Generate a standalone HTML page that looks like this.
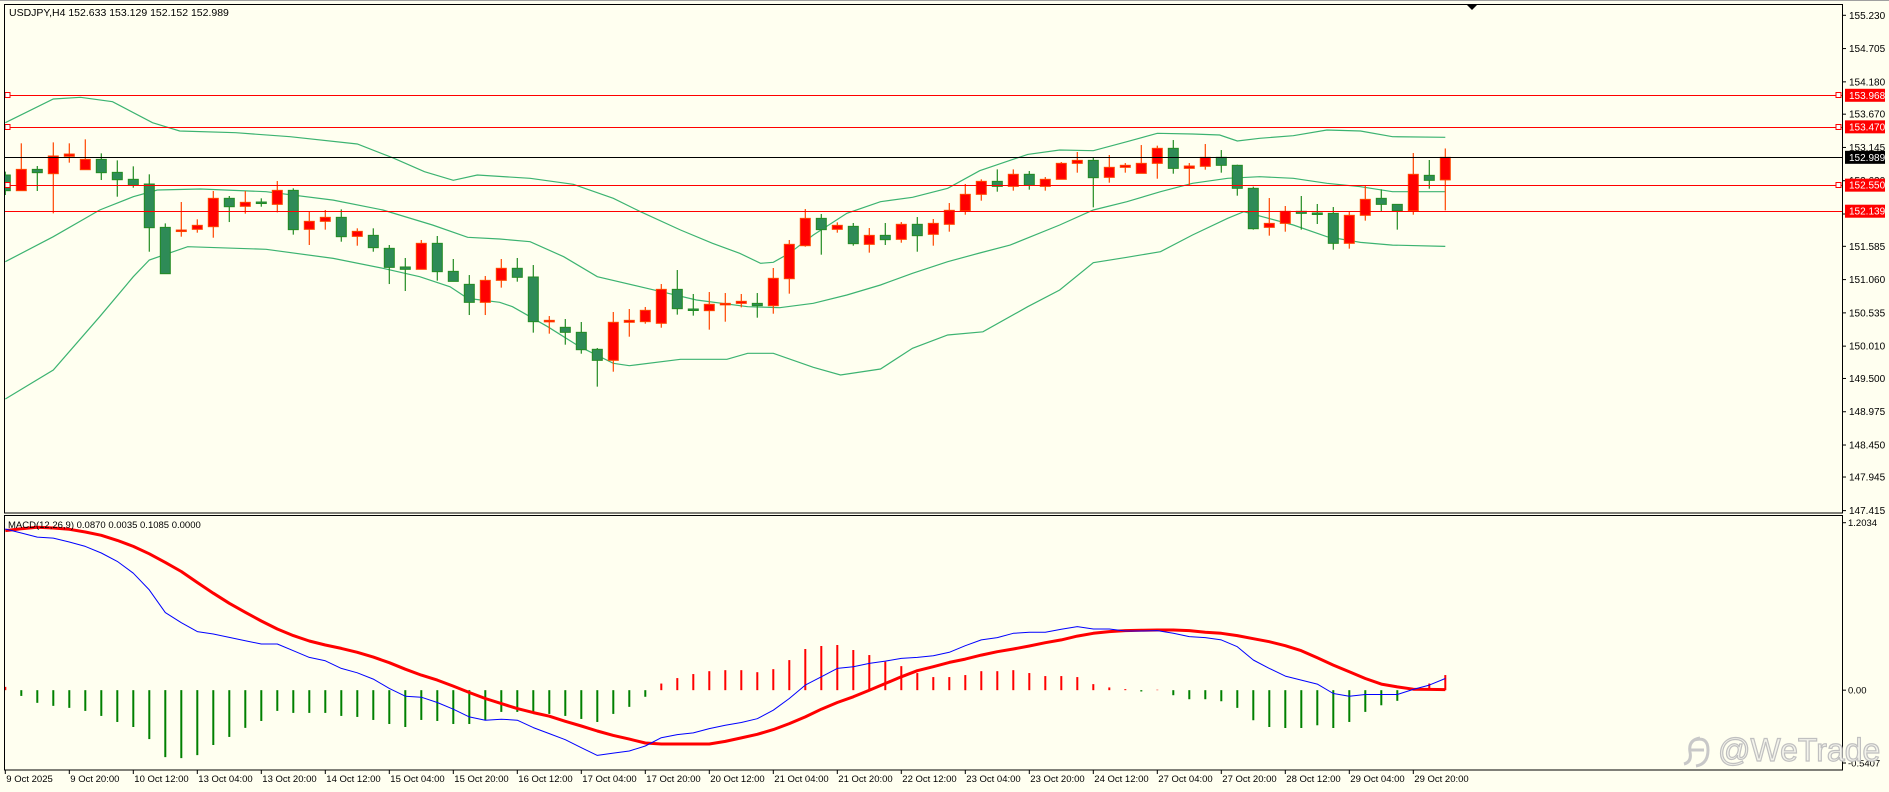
<!DOCTYPE html>
<html><head><meta charset="utf-8"><title>USDJPY H4</title>
<style>
html,body{margin:0;padding:0;background:#fffff0;}
svg{display:block;}
text{font-family:"Liberation Sans",sans-serif;}
</style></head>
<body>
<svg id="chart" xmlns="http://www.w3.org/2000/svg" width="1889" height="792" viewBox="0 0 1889 792">
<rect x="0" y="0" width="1889" height="792" fill="#fffff0"/>
<line x1="0" y1="0.5" x2="1889" y2="0.5" stroke="#a0a0a0" stroke-width="1"/>
<defs>
<clipPath id="mainClip"><rect x="5" y="5" width="1837" height="507"/></clipPath>
<clipPath id="macdClip"><rect x="5" y="516" width="1837" height="253"/></clipPath>
</defs>
<g id="mainPanel"></g>
<g id="macdPanel"></g>
<g id="axes"></g>
</svg>
<script>
// ---- price data (oldest -> newest) ----
const opens=[152.710,152.463,152.799,152.731,153.005,152.794,152.957,152.752,152.642,152.568,
151.884,151.821,151.853,151.895,152.342,152.216,152.284,152.247,152.468,151.853,
151.979,152.042,151.742,151.758,151.553,151.259,151.222,151.632,151.190,150.985,
150.701,151.048,151.238,151.101,150.396,150.307,150.228,149.960,149.786,150.386,
150.396,150.370,150.906,150.596,150.570,150.670,150.685,150.685,150.648,151.074,
151.595,152.026,151.853,151.900,151.616,151.758,151.695,151.932,151.774,151.932,
152.147,152.405,152.610,152.531,152.721,152.531,152.642,152.894,152.941,152.673,
152.831,152.736,152.894,153.131,152.815,152.847,152.989,152.863,152.500,151.884,
151.947,152.137,152.111,152.105,151.632,152.074,152.342,152.247,152.147,152.705,152.633];
const highs=[152.763,153.210,152.852,153.225,153.210,153.273,153.052,152.941,152.847,152.721,
151.947,152.284,152.011,152.458,152.379,152.458,152.342,152.615,152.500,152.137,
152.158,152.168,151.869,151.869,151.606,151.401,151.685,151.748,151.385,151.132,
151.117,151.385,151.401,151.290,150.485,150.438,150.391,149.981,150.549,150.596,
150.628,150.990,151.211,150.833,150.864,150.848,150.833,150.848,151.243,151.685,
152.174,152.095,151.963,151.953,151.874,151.953,151.968,152.047,152.016,152.268,
152.568,152.642,152.799,152.799,152.773,152.678,152.915,153.073,152.989,153.026,
152.899,153.183,153.173,153.262,152.899,153.199,153.104,152.873,152.526,152.347,
152.221,152.379,152.253,152.205,152.137,152.547,152.484,152.247,153.057,152.947,153.129];
const lows=[152.394,152.463,152.458,152.105,152.905,152.794,152.631,152.368,152.510,151.500,
151.153,151.737,151.800,151.721,151.968,152.100,152.210,152.121,151.769,151.606,
151.848,151.658,151.595,151.500,150.990,150.880,151.222,151.043,151.032,150.501,
150.501,150.933,151.027,150.223,150.207,150.033,149.891,149.371,149.607,150.159,
150.364,150.301,150.507,150.491,150.270,150.396,150.622,150.459,150.522,150.838,
151.579,151.453,151.800,151.595,151.485,151.606,151.642,151.500,151.595,151.816,
152.084,152.305,152.447,152.463,152.479,152.463,152.642,152.747,152.200,152.589,
152.747,152.736,152.652,152.731,152.547,152.794,152.747,152.384,151.848,151.753,
151.816,151.848,151.937,151.532,151.548,151.990,152.142,151.848,152.084,152.494,152.152];
const closes=[152.463,152.799,152.747,153.010,153.041,152.957,152.747,152.636,152.547,151.879,
151.153,151.842,151.916,152.342,152.210,152.279,152.263,152.468,151.848,151.979,
152.042,151.737,151.821,151.564,151.253,151.222,151.632,151.185,151.032,150.701,
151.048,151.238,151.096,150.396,150.417,150.228,149.954,149.786,150.386,150.417,
150.575,150.906,150.601,150.580,150.670,150.685,150.717,150.648,151.080,151.616,
152.026,151.848,151.916,151.627,151.758,151.690,151.932,151.753,151.947,152.153,
152.405,152.610,152.531,152.721,152.547,152.642,152.894,152.941,152.668,152.831,
152.863,152.894,153.131,152.815,152.852,152.989,152.863,152.500,151.863,151.947,
152.137,152.105,152.100,151.632,152.074,152.326,152.247,152.147,152.721,152.626,152.989];

// ---- Bollinger bands (bar index, price) ----
const upperIdx=[0,3,4.7,6.7,9.2,10.9,14.4,17.8,22,24.2,26.2,28,29.5,32.8,35.5,38,39.7,42.2,44.2,45.9,47.2,48,49,50.5,52.6,54.7,56.7,58.9,60.9,63.9,65.9,68,70.1,72,74.2,75.9,77,78.4,80.5,82.6,84.7,86.7,90];
const upperVal=[153.535,153.909,153.936,153.867,153.535,153.404,153.377,153.314,153.199,152.983,152.762,152.626,152.710,152.658,152.563,152.342,152.131,151.842,151.632,151.475,151.317,151.333,151.475,151.763,152.106,152.289,152.358,152.500,152.778,153.036,153.104,153.093,153.235,153.368,153.357,153.341,153.246,153.289,153.330,153.420,153.404,153.314,153.305];
const midIdx=[0,3,5.9,8,9.5,12.2,16.3,20.5,23.6,26.7,28.9,30.9,32.8,34.9,37,40.1,43.2,46.4,48.4,50.5,52.6,54.7,56.7,58.9,60.9,62.8,65.9,68,70.1,72.2,74.2,76.4,78.4,80.5,82.6,84.7,86.7,90];
const midVal=[151.342,151.737,152.158,152.368,152.473,152.489,152.446,152.315,152.158,151.921,151.727,151.700,151.658,151.421,151.105,150.922,150.738,150.632,150.616,150.686,150.817,150.974,151.159,151.342,151.480,151.605,151.921,152.158,152.289,152.446,152.579,152.658,152.683,152.658,152.579,152.525,152.446,152.446];
const lowIdx=[0,3,5.9,8,9,11.4,16.3,20.5,23.6,25.9,27.8,28.9,30.9,31.7,33.9,35.9,38,39,42.2,45.1,46.4,48,50.5,52.2,54.7,56.7,58.9,61.1,63.9,65.9,68,70.1,72.2,74.2,76.4,77.4,80.5,82.6,84.7,86.7,90];
const lowVal=[149.176,149.633,150.474,151.105,151.369,151.579,151.538,151.395,151.238,151.105,150.947,150.764,150.701,150.632,150.316,150.001,149.739,149.701,149.802,149.802,149.897,149.897,149.676,149.554,149.649,149.976,150.186,150.237,150.632,150.896,151.326,151.411,151.500,151.763,152.027,152.131,151.921,151.736,151.647,151.605,151.584];

// ---- horizontal levels ----
const levelPrices=[153.968,153.470,152.550,152.139];
const levelMarkers=[true,true,true,false];
const lastPrice=152.989;
const priceTicks=[155.230,154.705,154.180,153.670,153.145,152.620,152.095,151.585,151.060,150.535,150.010,149.500,148.975,148.450,147.945,147.415];

// ---- MACD data ----
const macdHist=[0.023,-0.040,-0.088,-0.109,-0.123,-0.144,-0.179,-0.221,-0.256,-0.340,
-0.465,-0.472,-0.451,-0.381,-0.325,-0.262,-0.214,-0.144,-0.158,-0.158,
-0.158,-0.179,-0.186,-0.207,-0.235,-0.256,-0.207,-0.214,-0.235,-0.235,
-0.207,-0.151,-0.151,-0.158,-0.165,-0.179,-0.200,-0.221,-0.165,-0.116,
-0.046,0.046,0.084,0.112,0.132,0.139,0.139,0.125,0.146,0.209,
0.286,0.307,0.314,0.279,0.244,0.198,0.167,0.119,0.091,0.091,
0.105,0.132,0.132,0.139,0.119,0.098,0.098,0.091,0.042,0.019,
0.007,-0.009,0.003,-0.035,-0.063,-0.063,-0.077,-0.123,-0.209,-0.256,
-0.263,-0.263,-0.244,-0.263,-0.221,-0.151,-0.105,-0.074,0.002,0.046,0.105];
const macdLine=[1.120,1.092,1.064,1.057,1.030,0.999,0.953,0.895,0.813,0.697,
0.539,0.469,0.407,0.390,0.367,0.344,0.321,0.321,0.274,0.228,
0.204,0.151,0.121,0.077,0.012,-0.042,-0.049,-0.086,-0.132,-0.186,
-0.209,-0.202,-0.209,-0.260,-0.302,-0.344,-0.400,-0.453,-0.437,-0.423,
-0.388,-0.330,-0.309,-0.297,-0.267,-0.244,-0.225,-0.198,-0.139,-0.058,
0.035,0.093,0.151,0.163,0.186,0.202,0.221,0.228,0.239,0.263,
0.309,0.349,0.365,0.395,0.402,0.402,0.423,0.442,0.425,0.425,
0.411,0.411,0.414,0.395,0.372,0.365,0.349,0.302,0.210,0.151,
0.098,0.070,0.042,-0.023,-0.042,-0.030,-0.030,-0.030,0.005,0.035,0.081];
const signalLine=[1.109,1.122,1.132,1.127,1.118,1.099,1.076,1.041,0.999,0.948,
0.888,0.825,0.748,0.674,0.604,0.541,0.481,0.425,0.379,0.342,
0.314,0.290,0.263,0.230,0.191,0.146,0.105,0.070,0.028,-0.016,
-0.058,-0.093,-0.128,-0.156,-0.181,-0.216,-0.249,-0.284,-0.314,-0.340,
-0.367,-0.374,-0.374,-0.374,-0.374,-0.356,-0.332,-0.307,-0.274,-0.232,
-0.186,-0.132,-0.086,-0.046,0.000,0.046,0.093,0.135,0.163,0.193,
0.216,0.244,0.267,0.286,0.307,0.330,0.349,0.376,0.395,0.407,
0.414,0.416,0.418,0.418,0.414,0.402,0.395,0.379,0.358,0.337,
0.309,0.274,0.225,0.174,0.128,0.081,0.042,0.023,0.007,0.005,0.004];
const macdTicks=[1.2034,0.00,-0.5407];
const macdTickLabels=["1.2034","0.00","-0.5407"];
const timeLabels=["9 Oct 2025","9 Oct 20:00","10 Oct 12:00","13 Oct 04:00","13 Oct 20:00","14 Oct 12:00","15 Oct 04:00","15 Oct 20:00","16 Oct 12:00","17 Oct 04:00","17 Oct 20:00","20 Oct 12:00","21 Oct 04:00","21 Oct 20:00","22 Oct 12:00","23 Oct 04:00","23 Oct 20:00","24 Oct 12:00","27 Oct 04:00","27 Oct 20:00","28 Oct 12:00","29 Oct 04:00","29 Oct 20:00"];
const timeLabelIdx=[0,4,8,12,16,20,24,28,32,36,40,44,48,52,56,60,64,68,72,76,80,84,88];

// ---- scales ----
const X=i=>5.3+16*i;
const Y=p=>15.3+(155.23-p)*63.38;
const M=v=>517+(1.2034-v)*143.9;

const NS="http://www.w3.org/2000/svg";
function mk(tag,attrs,parent){const e=document.createElementNS(NS,tag);for(const k in attrs)e.setAttribute(k,attrs[k]);parent.appendChild(e);return e;}

const main=document.getElementById('mainPanel');
const macd=document.getElementById('macdPanel');
const axes=document.getElementById('axes');

// panel borders
let b1=mk('rect',{x:4.5,y:4.5,width:1838,height:508.5,fill:'none',stroke:'#000','stroke-width':1},axes);


let b2=mk('rect',{x:4.5,y:515.5,width:1838,height:254.5,fill:'none',stroke:'#000','stroke-width':1},axes);



const gMain=mk('g',{'clip-path':'url(#mainClip)'},main);



// bands
function bandPath(idx,val,name){
  let d=idx.map((i,k)=>(k?'L':'M')+X(i).toFixed(1)+' '+Y(val[k]).toFixed(1)).join(' ');
  const p=mk('path',{d:d,fill:'none',stroke:'#3cb371','stroke-width':1.2},gMain);
  
  
}
bandPath(upperIdx,upperVal,'bollinger-upper');
bandPath(midIdx,midVal,'bollinger-middle');
bandPath(lowIdx,lowVal,'bollinger-lower');

// levels
levelPrices.forEach((p,k)=>{
  const y=Math.round(Y(p))+0.5;
  const l=mk('line',{x1:5,y1:y,x2:1842,y2:y,stroke:'#ff0000','stroke-width':1},main);
  
  
  if(levelMarkers[k]){
    const m1=mk('rect',{x:5,y:y-3,width:5,height:5,fill:'#fff',stroke:'#ff0000','stroke-width':1},main);
    
    
    const m2=mk('rect',{x:1836,y:y-3,width:5,height:5,fill:'#fff',stroke:'#ff0000','stroke-width':1},main);
    
    
  }
});
const ly=Math.round(Y(lastPrice))+0.5;
const bl=mk('line',{x1:5,y1:ly,x2:1842,y2:ly,stroke:'#000','stroke-width':1},main);



// candles
for(let i=0;i<opens.length;i++){
  const up=closes[i]>=opens[i];
  const x=X(i);
  const g=mk('g',{},gMain);
  
  
  const wc=up?'#ff4500':'#228b22';
  mk('line',{x1:x,y1:Y(highs[i]),x2:x,y2:Y(lows[i]),stroke:wc,'stroke-width':1.2},g);
  const top=Y(Math.max(opens[i],closes[i])),bot=Y(Math.min(opens[i],closes[i]));
  mk('rect',{x:x-5,y:top,width:10,height:Math.max(bot-top,1.5),fill:up?'#ff0000':'#2e8b57',stroke:wc,'stroke-width':1},g);
}

// title
const t=mk('text',{x:9,y:16,'font-size':'10.5px',fill:'#000'},main);
t.textContent='USDJPY,H4  152.633 153.129 152.152 152.989';


const tri=mk('path',{d:'M1467 5 L1477 5 L1472 10 Z',fill:'#000'},main);



// price axis
priceTicks.forEach(p=>{
  const y=Y(p);
  mk('line',{x1:1842,y1:y,x2:1846,y2:y,stroke:'#000','stroke-width':1},axes);
  const tx=mk('text',{x:1849,y:y+3.5,'font-size':'10px',fill:'#000'},axes);
  tx.textContent=p.toFixed(3);
  
  
});
function tag(p,bg,name){
  const y=Y(p);
  const r=mk('rect',{x:1845,y:y-6.5,width:40,height:13,fill:bg},axes);
  
  
  const tx=mk('text',{x:1849,y:y+3.5,'font-size':'10px',fill:'#fff'},axes);
  tx.textContent=p.toFixed(3);
  
  
}
levelPrices.forEach(p=>tag(p,'#ff0000','level-price-tag'));
tag(lastPrice,'#000','last-price-tag');

// MACD
const gM=mk('g',{'clip-path':'url(#macdClip)'},macd);


const z=M(0);
macdHist.forEach((v,i)=>{
  const x=X(i);
  const l=mk('line',{x1:x,y1:z,x2:x,y2:M(v),stroke:v>=0?'#ff0000':'#008000','stroke-width':2},gM);
  
  
});
function linePath(arr,color,w,name){
  const d=arr.map((v,i)=>(i?'L':'M')+X(i).toFixed(1)+' '+M(v).toFixed(1)).join(' ');
  const p=mk('path',{d:d,fill:'none',stroke:color,'stroke-width':w,'stroke-linejoin':'round'},gM);
  
  
}
linePath(signalLine,'#ff0000',3,'macd-signal-line');
linePath(macdLine,'#0000ff',1,'macd-main-line');
const mt=mk('text',{x:8,y:528,'font-size':'9.5px',fill:'#000'},macd);
mt.textContent='MACD(12,26,9) 0.0870 0.0035 0.1085 0.0000';


macdTicks.forEach((v,k)=>{
  let y=M(v);
  if(k===0)y=522.7; if(k===2)y=763;
  mk('line',{x1:1842,y1:y,x2:1846,y2:y,stroke:'#000','stroke-width':1},axes);
  const tx=mk('text',{x:1848,y:y+3.5,'font-size':'9.5px',fill:'#000'},axes);
  tx.textContent=macdTickLabels[k];
  
  
});

// time axis
timeLabelIdx.forEach((i,k)=>{
  const x=X(i);
  mk('line',{x1:x,y1:770,x2:x,y2:774,stroke:'#000','stroke-width':1},axes);
  const tx=mk('text',{x:x+1,y:782,'font-size':'9.5px',fill:'#000'},axes);
  tx.textContent=timeLabels[k];
  
  
});

// watermark
const wm=mk('g',{},axes);


mk('path',{d:'M1700 738 q-12 2 -10 14 q2 10 -6 12 M1690 750 l14 0 M1694 740 q14 -4 14 10 q0 14 -12 16',fill:'none',stroke:'#c8c8c8','stroke-width':3},wm);
const wt=mk('text',{x:1718,y:761,'font-size':'32px',fill:'#f4f4ec',stroke:'#c0c0c0','stroke-width':1.2},wm);
wt.textContent='@WeTrade';
</script>
</body></html>
